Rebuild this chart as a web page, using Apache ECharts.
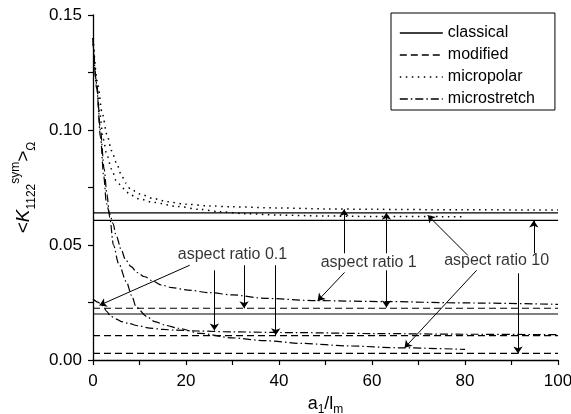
<!DOCTYPE html>
<html>
<head>
<meta charset="utf-8">
<script src="https://cdn.jsdelivr.net/npm/echarts@6/dist/echarts.min.js"></script>
<style>
  html, body { margin: 0; padding: 0; background: #fff; }
  #chart { width: 571px; height: 414px; }
</style>
</head>
<body>
<div id="chart"></div>
<script>
// constant levels (classical / modified), one per aspect ratio
const classicalLevels = [0.0640, 0.0607, 0.0200];
const modifiedLevels = [0.0225, 0.0106, 0.0029];
const levelSpan = [0, 100];

// micropolar curves [a1/lm, value]
const micropolarA = [[0,0.140],[1,0.120],[2,0.107],[3,0.098],[4,0.091],[5,0.086],[6,0.081],[7,0.077],[8,0.0745],[10,0.0722],[13,0.0702],[16,0.0688],[20,0.0677],[25,0.0670],[30,0.0666],[40,0.0661],[50,0.0657],[60,0.0655],[80,0.0653],[100,0.0652]];
const micropolarB = [[0,0.140],[0.7,0.122],[1.4,0.108],[2.2,0.096],[3,0.089],[4,0.083],[5,0.078],[6,0.076],[7,0.0735],[8,0.0718],[10,0.070],[13,0.0685],[18,0.0668],[23,0.0655],[27,0.0645],[33,0.0636],[40,0.063],[50,0.0626],[60,0.0624],[80,0.0623]];

// microstretch curves
const microstretchA = [[0,0.140],[0.8,0.118],[1.6,0.097],[2.3,0.080],[2.9,0.068],[3.6,0.0635],[4.3,0.0594],[5,0.054],[6.1,0.0478],[7,0.0435],[8.2,0.0406],[9.5,0.038],[11.1,0.0362],[13,0.0342],[14.7,0.0326],[17,0.0315],[20.4,0.0304],[25,0.0293],[30,0.0283],[37,0.0268],[48,0.0258],[63,0.0254],[80,0.0248],[100,0.0242]];
const microstretchB = [[0,0.0265],[1,0.0252],[2.1,0.0236],[3,0.021],[3.8,0.019],[5,0.0178],[6.1,0.0167],[7.5,0.016],[9.7,0.0149],[12.2,0.0139],[15,0.0133],[17.6,0.0130],[22.5,0.0126],[30,0.0122],[44,0.0119],[60,0.0115],[80,0.0112],[100,0.011]];
const microstretchC = [[0,0.139],[0.8,0.120],[1.6,0.100],[2.4,0.083],[3.0,0.072],[3.6,0.062],[4.4,0.050],[5.5,0.042],[7.2,0.034],[8.3,0.028],[9.3,0.023],[11.5,0.019],[13.3,0.0167],[15.8,0.0150],[18.3,0.0138],[23,0.0116],[30,0.0096],[37,0.0084],[45,0.0072],[55,0.0061],[66,0.0053],[80,0.0046]];

// annotations
const noteText = ['aspect ratio 0.1', 'aspect ratio 1', 'aspect ratio 10'];
const noteX = [30.0, 59.3, 86.8];
const noteY = [0.0459, 0.0425, 0.0433];

// arrows: [fromX, fromY, toX, toY]
const arrows = [
    [20.8, 0.0412, 1.4, 0.0238],
    [26.1, 0.0390, 26.1, 0.0128],
    [32.5, 0.0412, 32.5, 0.0225],
    [39.3, 0.0412, 39.3, 0.0108],
    [54.1, 0.0381, 48.3, 0.0257],
    [54.0, 0.0464, 54.0, 0.0655],
    [63.1, 0.0464, 63.1, 0.0640],
    [63.1, 0.0390, 63.1, 0.0228],
    [80.6, 0.0455, 72.0, 0.0629],
    [82.5, 0.0390, 67.0, 0.0053],
    [94.8, 0.0464, 94.8, 0.0607],
    [91.4, 0.0377, 91.4, 0.0028]
];

const xTicks = { min: 0, max: 100, interval: 20 };
const yTicks = { min: 0, max: 0.15, interval: 0.05 };

const font = 'Liberation Sans';
const solid = 'solid';
const dashed = [7, 4];
const dotted = [1.5, 4.5];
const dashDot = [8, 3, 1.5, 3];

const lineSeries = (name, data, type, smooth) => ({
    name: name,
    type: 'line',
    data: data,
    symbol: 'none',
    smooth: smooth ? 0.3 : false,
    smoothMonotone: 'x',
    silent: true,
    itemStyle: { color: '#000' },
    lineStyle: { color: '#000', width: type === dotted ? 1.5 : 1.2, type: type },
    z: 3
});

const series = [];
classicalLevels.forEach(v => series.push(lineSeries('classical', levelSpan.map(x => [x, v]), solid, false)));
modifiedLevels.forEach(v => series.push(lineSeries('modified', levelSpan.map(x => [x, v]), dashed, false)));
[micropolarA, micropolarB].forEach(d => series.push(lineSeries('micropolar', d, dotted, true)));
[microstretchA, microstretchB, microstretchC].forEach(d => series.push(lineSeries('microstretch', d, dashDot, true)));

series.push({
    name: 'arrows',
    type: 'line',
    data: [],
    silent: true,
    markLine: {
        silent: true,
        symbol: ['none', 'arrow'],
        symbolSize: 7,
        label: { show: false },
        lineStyle: { color: '#000', width: 1, type: 'solid' },
        emphasis: { disabled: true },
        animation: false,
        data: arrows.map(a => [{ coord: [a[0], a[1]] }, { coord: [a[2], a[3]] }])
    }
});

series.push({
    name: 'notes',
    type: 'scatter',
    silent: true,
    symbolSize: 1,
    itemStyle: { color: 'rgba(0,0,0,0)' },
    data: noteText.map((t, i) => [noteX[i], noteY[i], t]),
    label: {
        show: true,
        position: 'inside',
        formatter: p => p.data[2],
        color: '#000',
        fontFamily: font,
        fontSize: 16
    }
});

const axisCommon = {
    axisLine: { show: true, onZero: false, lineStyle: { color: '#000', width: 1.3 } },
    axisTick: { show: true, inside: false, length: 5, lineStyle: { color: '#000', width: 1.2 } },
    minorTick: { show: true, splitNumber: 2, length: 5, lineStyle: { color: '#000', width: 1.2 } },
    splitLine: { show: false },
    minorSplitLine: { show: false }
};

const option = {
    animation: false,
    backgroundColor: '#fff',
    textStyle: { fontFamily: font },
    grid: { left: 93, right: 13, top: 15, bottom: 54, containLabel: false, outerBoundsMode: 'none' },
    legend: {
        data: ['classical', 'modified', 'micropolar', 'microstretch'],
        orient: 'vertical',
        left: 391,
        top: 13,
        padding: [12, 20, 3, 8],
        itemGap: 6,
        itemWidth: 43,
        itemHeight: 14,
        borderColor: '#000',
        borderWidth: 1,
        selectedMode: false,
        itemStyle: { opacity: 0 },
        lineStyle: { color: '#000', width: 1.6 },
        textStyle: { fontFamily: font, fontSize: 16, color: '#000' }
    },
    xAxis: Object.assign({
        type: 'value',
        min: xTicks.min,
        max: xTicks.max,
        interval: xTicks.interval,
        name: '{m|a}{s|1}{m|/l}{s|m}',
        nameLocation: 'middle',
        nameGap: 31,
        nameTextStyle: {
            rich: {
                m: { fontFamily: font, fontSize: 18, color: '#000', lineHeight: 24 },
                s: { fontFamily: font, fontSize: 12, color: '#000', verticalAlign: 'bottom', lineHeight: 14 }
            }
        },
        axisLabel: { color: '#000', fontSize: 17, margin: 13, fontFamily: font }
    }, axisCommon),
    yAxis: Object.assign({
        type: 'value',
        min: yTicks.min,
        max: yTicks.max,
        interval: yTicks.interval,
        name: '{m|<}{k|K}{s|1122}{u|sym}{m|>}{s|Ω}',
        nameLocation: 'middle',
        nameRotate: 90,
        nameGap: 55,
        nameTextStyle: {
            rich: {
                m: { fontFamily: font, fontSize: 19, color: '#000', lineHeight: 28 },
                k: { fontFamily: font, fontSize: 19, fontStyle: 'italic', color: '#000', lineHeight: 28 },
                s: { fontFamily: font, fontSize: 12, color: '#000', verticalAlign: 'bottom', lineHeight: 14 },
                u: { fontFamily: font, fontSize: 12, color: '#000', verticalAlign: 'top', lineHeight: 14 }
            }
        },
        axisLabel: { color: '#000', fontSize: 17, margin: 11, fontFamily: font, formatter: v => v.toFixed(2) }
    }, axisCommon),
    series: series
};

const chart = echarts.init(document.getElementById('chart'), null, { renderer: 'canvas' });
chart.setOption(option);
</script>
</body>
</html>
